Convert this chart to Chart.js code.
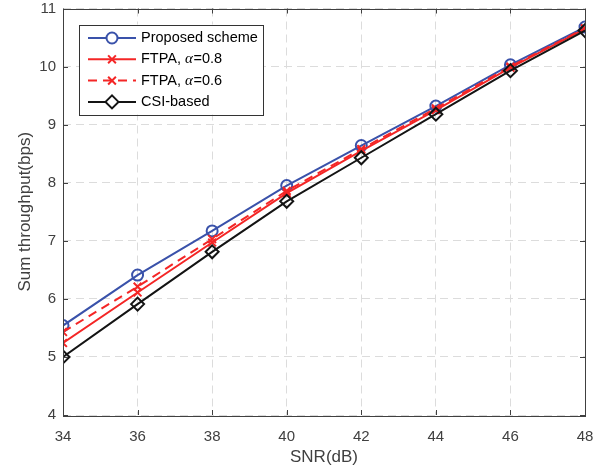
<!DOCTYPE html>
<html><head><meta charset="utf-8">
<script src="https://cdn.jsdelivr.net/npm/chart.js@4/dist/chart.umd.min.js"></script>
<style>html,body{margin:0;padding:0;background:#fff}#wrap{width:602px;height:470px}</style>
</head><body><div id="wrap"><canvas id="c" width="602" height="470"></canvas></div>
<script>
const snr = [34, 36, 38, 40, 42, 44, 46, 48];
const proposed = [5.54, 6.41, 7.17, 7.95, 8.64, 9.32, 10.03, 10.68];
const ftpa08 = [5.24, 6.11, 6.97, 7.82, 8.55, 9.25, 9.98, 10.65];
const ftpa06 = [5.43, 6.21, 7.03, 7.86, 8.58, 9.28, 10.00, 10.66];
const csi = [5.00, 5.91, 6.81, 7.68, 8.43, 9.18, 9.93, 10.62];
const seriesNames = ['Proposed scheme', 'FTPA, α=0.8', 'FTPA, α=0.6', 'CSI-based'];
const xLabel = 'SNR(dB)';
const yLabel = 'Sum throughput(bps)';

const BLUE = '#3a52aa', RED = '#f42626', BLACK = '#141414';
const AXIS = '#404040';
const pts = arr => arr.map((v, i) => ({x: snr[i], y: v}));

const datasets = [
  {label: seriesNames[0], data: pts(proposed), borderColor: BLUE,
   pointStyle: 'circle', pointRadius: 5.5, order: 4},
  {label: seriesNames[1], data: pts(ftpa08), borderColor: RED,
   pointStyle: 'crossRot', pointRadius: 5.5, order: 3},
  {label: seriesNames[2], data: pts(ftpa06), borderColor: RED,
   borderDash: [9, 6], pointStyle: 'crossRot', pointRadius: 5.5, order: 2},
  {label: seriesNames[3], data: pts(csi), borderColor: BLACK,
   pointStyle: 'rectRot', pointRadius: 6.5, order: 1}
];
datasets.forEach(d => {
  d.borderWidth = 2; d.pointBorderWidth = 2; d.showLine = true; d.tension = 0;
  d.backgroundColor = 'rgba(0,0,0,0)'; d.pointBackgroundColor = 'rgba(0,0,0,0)';
  d.pointBorderColor = d.borderColor; d.fill = false;
});

const boxPlugin = {
  id: 'boxTicks',
  afterDatasetsDraw(chart) {
    const {ctx, chartArea: a, scales: {x, y}} = chart;
    ctx.save();
    ctx.strokeStyle = AXIS;
    ctx.lineWidth = 1;
    ctx.setLineDash([]);
    ctx.beginPath();
    x.ticks.forEach(t => {
      const px = Math.round(x.getPixelForValue(t.value)) + 0.5;
      ctx.moveTo(px, a.bottom); ctx.lineTo(px, a.bottom - 5);
      ctx.moveTo(px, a.top); ctx.lineTo(px, a.top + 5);
    });
    y.ticks.forEach(t => {
      const py = Math.round(y.getPixelForValue(t.value)) + 0.5;
      ctx.moveTo(a.left, py); ctx.lineTo(a.left + 5, py);
      ctx.moveTo(a.right, py); ctx.lineTo(a.right - 5, py);
    });
    ctx.stroke();
    ctx.strokeRect(Math.round(a.left) + 0.5, Math.round(a.top) + 0.5, Math.round(a.right - a.left), Math.round(a.bottom - a.top));
    ctx.restore();
  },
  afterDraw(chart) {
    const ctx = chart.ctx;
    const a = chart.chartArea;
    const bx = a.left + 16, by = a.top + 16, bw = 184, bh = 90;
    ctx.save();
    ctx.fillStyle = '#fff';
    ctx.fillRect(bx, by, bw, bh);
    ctx.strokeStyle = '#333';
    ctx.lineWidth = 1;
    ctx.strokeRect(Math.round(bx) + 0.5, Math.round(by) + 0.5, bw, bh);
    [0, 1, 2, 3].forEach((di, i) => {
      const ds = chart.data.datasets[di];
      const cy = by + 13.5 + i * 21.3;
      const x0 = bx + 9, x1 = bx + 57, xm = (x0 + x1) / 2;
      ctx.strokeStyle = ds.borderColor;
      ctx.lineWidth = 2;
      ctx.setLineDash(ds.borderDash || []);
      ctx.beginPath(); ctx.moveTo(x0, cy); ctx.lineTo(x1, cy); ctx.stroke();
      ctx.setLineDash([]);
      ctx.fillStyle = '#fff';
      Chart.helpers.drawPoint(ctx, {pointStyle: ds.pointStyle, radius: ds.pointRadius, borderWidth: 2, rotation: 0}, xm, cy);
      ctx.fillStyle = '#000';
      ctx.textBaseline = 'middle';
      ctx.textAlign = 'left';
      let tx = bx + 62;
      const parts = ds.label.split('α');
      ctx.font = '14.5px "Liberation Sans", Arial, sans-serif';
      ctx.fillText(parts[0], tx, cy);
      if (parts.length > 1) {
        tx += ctx.measureText(parts[0]).width;
        ctx.font = 'italic 15px "Liberation Serif", "Times New Roman", serif';
        ctx.fillText('α', tx, cy);
        tx += ctx.measureText('α').width + 0.5;
        ctx.font = '14.5px "Liberation Sans", Arial, sans-serif';
        ctx.fillText(parts[1], tx, cy);
      }
    });
    ctx.restore();
  }
};

const FONT = '"Liberation Sans", Arial, sans-serif';
new Chart(document.getElementById('c'), {
  type: 'scatter',
  data: {datasets},
  options: {
    responsive: false, animation: false, devicePixelRatio: 1,
    layout: {padding: {top: 7, right: 17, left: 0, bottom: 0}},
    plugins: {legend: {display: false}, tooltip: {enabled: false}},
    scales: {
      x: {
        type: 'linear', min: 34, max: 48,
        ticks: {stepSize: 2, color: AXIS, font: {family: FONT, size: 15}, padding: 13},
        grid: {color: '#dcdcdc', lineWidth: 1, drawTicks: false},
        border: {display: false, dash: [8, 5]},
        title: {display: true, text: xLabel, color: AXIS, font: {family: FONT, size: 17}, padding: {top: 0, bottom: 2}},
        afterFit: s => { s.height = 55; s.paddingLeft = 0; s.paddingRight = 0; }
      },
      y: {
        min: 4, max: 11,
        ticks: {stepSize: 1, color: AXIS, font: {family: FONT, size: 15}, padding: 7},
        grid: {color: '#dcdcdc', lineWidth: 1, drawTicks: false},
        border: {display: false, dash: [8, 5]},
        title: {display: true, text: yLabel, color: AXIS, font: {family: FONT, size: 17}, padding: {top: 15, bottom: 0}},
        afterFit: s => { s.width = 63; s.paddingTop = 0; s.paddingBottom = 0; }
      }
    }
  },
  plugins: [boxPlugin]
});
</script>
</body></html>
